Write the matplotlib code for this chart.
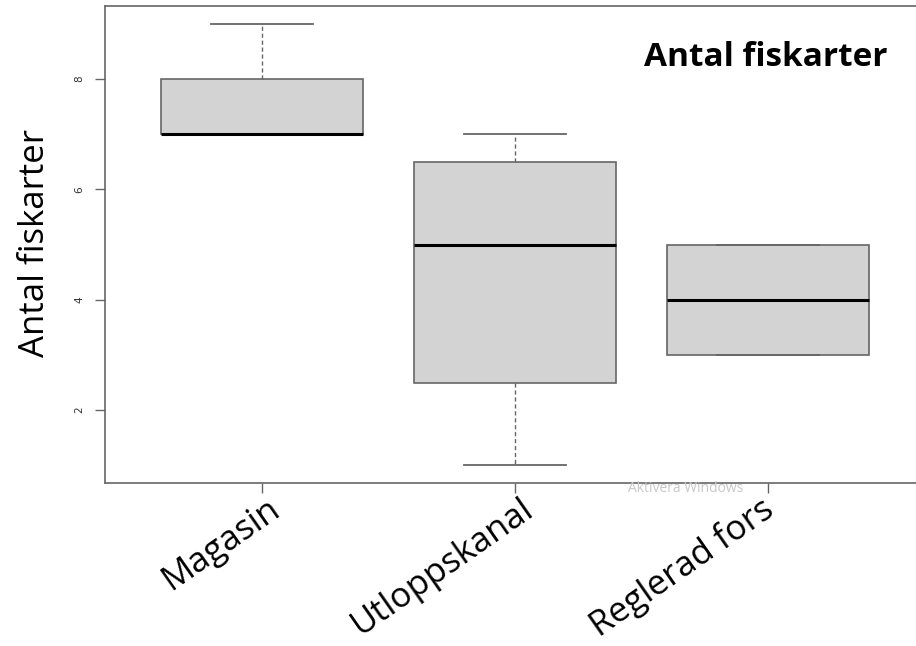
import matplotlib
matplotlib.use("Agg")
import matplotlib.pyplot as plt

categories = ["Magasin", "Utloppskanal", "Reglerad fors"]
whislo = [7, 1, 3]
q1 = [7, 2.5, 3]
med = [7, 5, 4]
q3 = [8, 6.5, 5]
whishi = [9, 7, 5]
yticks = [2, 4, 6, 8]

fig = plt.figure(figsize=(9.16, 6.46), dpi=100)
ax = fig.add_axes([105/916, (646-483)/646, (925-105)/916, (483-6)/646])

stats = []
for i, c in enumerate(categories):
    stats.append(dict(label=c, whislo=whislo[i], q1=q1[i], med=med[i],
                      q3=q3[i], whishi=whishi[i], fliers=[]))

edge = "#666666"
ax.bxp(stats, positions=[1, 2, 3], widths=0.8, showfliers=False,
       patch_artist=True,
       boxprops=dict(facecolor="#d3d3d3", edgecolor=edge, linewidth=1.2),
       medianprops=dict(color="black", linewidth=2.2, solid_capstyle="butt"),
       whiskerprops=dict(color=edge, linewidth=1.0, linestyle=(0, (3, 2))),
       capprops=dict(color=edge, linewidth=1.3),
       capwidths=0.4)

ax.set_xlim(0.38, 3.62)
ax.set_ylim(0.68, 9.32)
for s in ax.spines.values():
    s.set_color(edge)
    s.set_linewidth(1.2)

ax.set_yticks(yticks)
ax.set_yticklabels([str(v) for v in yticks], rotation=90, va="center",
                   fontsize=7.5, color="#333333", family="DejaVu Sans")
ax.tick_params(axis="y", length=7, width=1, color=edge, pad=8)
ax.set_xticks([1, 2, 3])
ax.set_xticklabels([])
ax.tick_params(axis="x", length=7, width=1, color=edge)

label_dx = [0.02, 0.02, -0.03]
for i, c in enumerate(categories):
    ax.text(i + 1.0 + label_dx[i], 0.52, c, rotation=35, ha="right", va="top",
            rotation_mode="anchor", fontsize=25, family="Open Sans",
            color="black")

fig.text(35/916, 1 - 243/646, "Antal fiskarter", rotation=90, ha="center",
         va="center", fontsize=25, family="Open Sans", color="black")
fig.text(766/916, 1 - 58/646, "Antal fiskarter", ha="center", va="center",
         fontsize=24, fontweight="bold", family="Open Sans", color="black")
fig.text(686/916, 1 - 489/646, "Aktivera Windows", ha="center", va="center",
         fontsize=10, family="Open Sans", color="#c8c8c8")

fig.savefig("out.png", dpi=100)
